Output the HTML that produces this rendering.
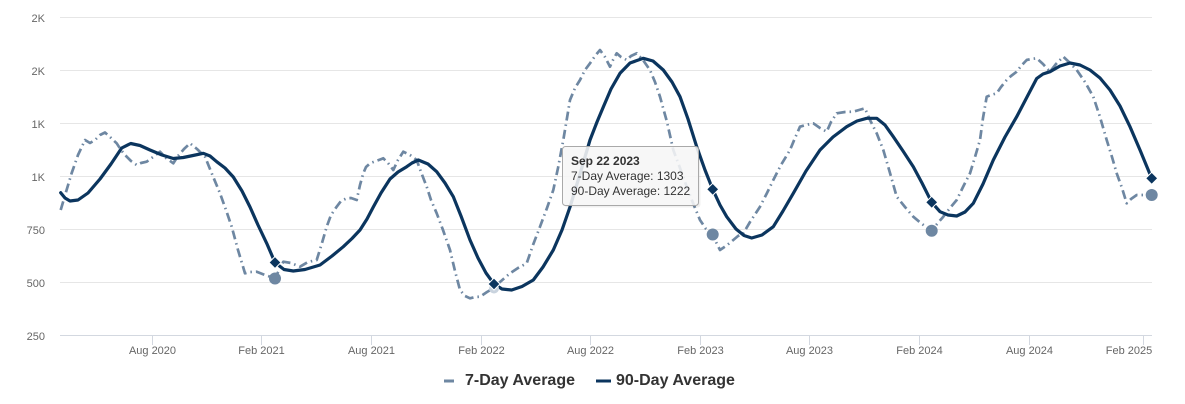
<!DOCTYPE html>
<html>
<head>
<meta charset="utf-8">
<style>
html,body{margin:0;padding:0;background:#fff;}
svg{display:block;font-family:"Liberation Sans",Arial,sans-serif;}
</style>
</head>
<body>
<svg width="1185" height="404" viewBox="0 0 1185 404" xmlns="http://www.w3.org/2000/svg">
<rect width="1185" height="404" fill="#fff"/>
<!-- grid -->
<g stroke="#e6e6e6" stroke-width="1">
<line x1="60" y1="17.5" x2="1152" y2="17.5"/>
<line x1="60" y1="70.5" x2="1152" y2="70.5"/>
<line x1="60" y1="123.5" x2="1152" y2="123.5"/>
<line x1="60" y1="176.5" x2="1152" y2="176.5"/>
<line x1="60" y1="229.5" x2="1152" y2="229.5"/>
<line x1="60" y1="282.5" x2="1152" y2="282.5"/>
</g>
<line x1="60" y1="335.5" x2="1152" y2="335.5" stroke="#d3d8e0" stroke-width="1"/>
<!-- ticks -->
<g stroke="#d3d8e0" stroke-width="1">
<line x1="152.5" y1="335" x2="152.5" y2="345"/>
<line x1="261.5" y1="335" x2="261.5" y2="345"/>
<line x1="371.5" y1="335" x2="371.5" y2="345"/>
<line x1="481.5" y1="335" x2="481.5" y2="345"/>
<line x1="590.5" y1="335" x2="590.5" y2="345"/>
<line x1="700.5" y1="335" x2="700.5" y2="345"/>
<line x1="809.5" y1="335" x2="809.5" y2="345"/>
<line x1="919.5" y1="335" x2="919.5" y2="345"/>
<line x1="1029.5" y1="335" x2="1029.5" y2="345"/>
<line x1="1143.5" y1="335" x2="1143.5" y2="345"/>
</g>
<!-- y labels -->
<g font-size="11" fill="#666" text-anchor="end">
<text x="45" y="22">2K</text>
<text x="45" y="75">2K</text>
<text x="45" y="128">1K</text>
<text x="45" y="181">1K</text>
<text x="45" y="234">750</text>
<text x="45" y="287">500</text>
<text x="45" y="340">250</text>
</g>
<!-- x labels -->
<g font-size="11" fill="#666" text-anchor="middle">
<text x="152.5" y="354">Aug 2020</text>
<text x="261.5" y="354">Feb 2021</text>
<text x="371.5" y="354">Aug 2021</text>
<text x="481.5" y="354">Feb 2022</text>
<text x="590.5" y="354">Aug 2022</text>
<text x="700.5" y="354">Feb 2023</text>
<text x="809.5" y="354">Aug 2023</text>
<text x="919.5" y="354">Feb 2024</text>
<text x="1029.5" y="354">Aug 2024</text>
<text x="1129" y="354">Feb 2025</text>
</g>
<!-- 7-day dashed -->
<polyline fill="none" stroke="#6e87a2" stroke-width="2.7" stroke-dasharray="9 4 1.5 4" stroke-linejoin="round" points="60.7,210 66,192 71.7,173 78,155 85,140 90,143 95,140 100,135 105,132.5 110,137 116.7,143.3 121,150 126.7,156.7 131,161 136.7,165 141,163 146.7,161.7 153,157 160,151.7 166,158 173.3,163.3 178,156 184,149 190,143.3 197,149 205,156.7 212,174 220,193.3 226,210 231.7,226.7 238,250 245,273.3 250,272 256.7,271.7 265,275 275,278.3 283.3,261.7 291,263 300,266.7 308,262 316.7,260 322,243 326.7,226.7 331,215 336.7,206.7 341,201 346.7,198.3 351,198 356.7,200 360,185 363.3,173.3 366,167 370,163.3 376,161 383.3,158.3 388,163 393.3,170 398,160 403.3,151.7 410,155 416.7,160 421,172 426.7,186.7 431,200 436.7,213.3 443,230 450,250 455,271 460,290 465,296 470,298.3 475,297 480,296.7 487,292 493.3,288.3 500,282 510,273.3 518,268 526.7,263.3 533,245 540,226.7 547,208 553.3,190 558,168 563.3,140 567,118 570,100 575,88 580,80 585,70 590,63.3 595,56 600,50 605,57 610,66.7 613,60 616.7,53.3 621,57 626.7,60 631,56 636.7,53.3 643,60 650,70 655,82 660,96.7 667,122 673.3,150 680,168 686.7,186.7 693,203 700,220 706,229 712.7,234.3 716,242 720,250 726,246 733.3,240 738,236 743.3,233.3 750,222 760,206.7 767,193 773.3,180 781,165 790,150 795,138 800,126.7 806,125 813.3,123.3 820,128 826.7,131.7 831,122 836.7,113.3 845,112 853.3,111.7 859,110 865,108.3 870,120 876.7,133.3 883.3,150 890,173 896.7,196.7 905,207 913.3,216.7 922,224 931.7,230.7 937,224 943.3,216.7 950,208 956.7,200 963,187 970,173.3 975,157 980,140 983,118 986.7,96.7 991,95 996.7,93.3 1001,87 1006.7,80 1011,76 1016.7,71.7 1021,66 1026.7,60 1031,59 1036.7,58.3 1043,64 1050,71.7 1056,64 1063.3,56.7 1070,63 1076.7,70 1085,82 1093.3,96.7 1100,117 1106.7,140 1112,157 1116.7,173.3 1122,188 1126.7,203.3 1131,199 1136.7,195 1144,195 1151.7,195"/>
<!-- 90-day solid -->
<polyline fill="none" stroke="#0b355e" stroke-width="3.2" stroke-linejoin="round" stroke-linecap="round" points="60.7,192.7 65,198 70,201 78,200 88,193 100,179 111,164 121.7,148 130.7,143.5 140,145.5 150,150 162,155 173.3,158.5 183.3,157.5 193,155.5 203.3,153.3 210,156 216.7,161.7 225,168 233.3,177 242,191 250,207 258,225 266.7,243.3 275,262.5 284,269.5 293.3,271 305,269.5 320,265 332,256 343.3,246.7 352,238.5 360,230 367,219 373.3,207 381,193 390,179 398,172 406.7,166.7 412,163 418.3,160 428,164 436.7,171.7 445,183 453.3,196.7 461,216 470,240 478,258 486,273 494,284 502,289 511.7,290 522,286.5 533.3,280 543,267 553.3,250 562,230 570,207 580,174 590,140 597,122 603.3,107 611,89 620,73.3 630,63 643.3,58.3 653,61 663.3,70 672,82 680,96.7 688,119 696.7,146.7 705,170 712.7,189.3 720,205 726.7,216.7 736,229 744,235.5 751.7,238 762,235 773.3,226.7 783,211 793.3,193.3 806,171 820,150 833,137 846.7,126.7 857,121 866.7,118.3 876.7,118.3 885,125 893.3,136.7 903,151 913.3,166.7 922,183 931.7,202.3 940,211.7 948,215 956.7,216 965,212 973.3,203.3 983,184 993.3,160 1005,137 1016.7,116.7 1027,97 1036.7,78.5 1043,74 1050,71.7 1060,66 1070,63 1080,65 1090,70 1100,78 1110,90 1120,106 1130,126.7 1140,150 1151.7,178.3"/>
<!-- 7-day markers -->
<g fill="#6e87a2">
<circle cx="275" cy="278.5" r="6"/>
<circle cx="712.7" cy="234.5" r="6"/>
<circle cx="931.7" cy="230.7" r="6"/>
<circle cx="1151.7" cy="195" r="6"/>
<circle cx="494" cy="288.5" r="5" fill="#c9d3de"/>
</g>
<!-- 90-day markers -->
<g fill="#0b355e" stroke="#fff" stroke-width="1">
<path d="M275,256.5 L281,262.5 L275,268.5 L269,262.5 Z"/>
<path d="M494,278 L500,284 L494,290 L488,284 Z"/>
<path d="M712.7,183.3 L718.7,189.3 L712.7,195.3 L706.7,189.3 Z"/>
<path d="M931.7,196.3 L937.7,202.3 L931.7,208.3 L925.7,202.3 Z"/>
<path d="M1151.7,172.3 L1157.7,178.3 L1151.7,184.3 L1145.7,178.3 Z"/>
</g>
<!-- tooltip -->
<rect x="563.5" y="147.5" width="136" height="59" rx="3" fill="#000" fill-opacity="0.06" transform="translate(1,1)"/>
<rect x="562.5" y="146.5" width="136" height="59" rx="3" fill="#f7f7f7" fill-opacity="0.88" stroke="#a9a9a9" stroke-width="1"/>
<g font-size="12" fill="#333">
<text x="571" y="165" font-weight="bold">Sep 22 2023</text>
<text x="571" y="180">7-Day Average: 1303</text>
<text x="571" y="195">90-Day Average: 1222</text>
</g>
<!-- legend -->
<line x1="444" y1="381" x2="454" y2="381" stroke="#6e87a2" stroke-width="3"/>
<text x="465" y="385" font-size="16" font-weight="bold" fill="#333">7-Day Average</text>
<line x1="596" y1="381" x2="611" y2="381" stroke="#0b355e" stroke-width="3"/>
<text x="616" y="385" font-size="16" font-weight="bold" fill="#333">90-Day Average</text>
</svg>
</body>
</html>
